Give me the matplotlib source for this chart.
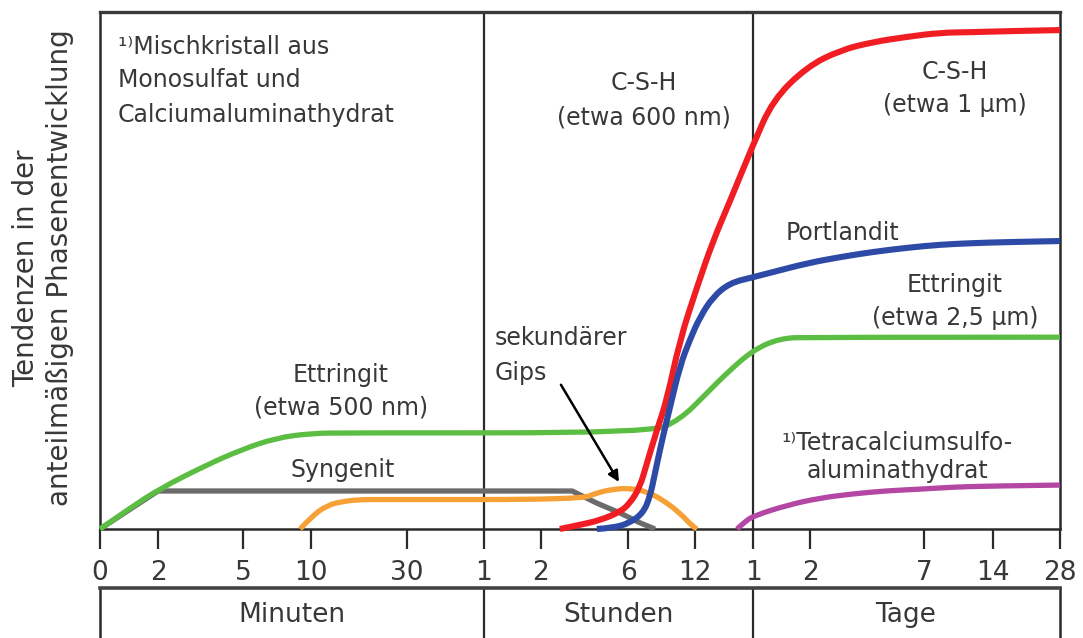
import numpy as np
import matplotlib
matplotlib.use("Agg")
import matplotlib.pyplot as plt
from matplotlib.ticker import NullLocator
from matplotlib.path import Path
from matplotlib.patches import PathPatch

plt.rcParams['font.family'] = ['DejaVu Sans']

# ---------------- data ----------------
# time axis (minutes) and its labels
tick_times = [0, 2, 5, 10, 30, 60, 120, 360, 720, 1440, 2880, 10080, 20160, 40320]
tick_labels = ['0', '2', '5', '10', '30', '1', '2', '6', '12', '1', '2', '7', '14', '28']
# piecewise axis layout (pixel-like units) used to build the custom time scale
scale_layout = [100, 158, 243, 311, 407, 484, 541, 628, 695, 753, 810, 924, 993, 1060]

period_names = ['Minuten', 'Stunden', 'Tage']
period_bounds = [60, 1440]  # minutes: 1 hour, 1 day

# Ettringit (green)
ettringit_t = [0, 1, 2.03, 3.72, 4.93, 7.4, 10, 17, 478, 639, 869, 1117, 1440, 2122, 2880, 40320]
ettringit_v = [0, 3.9, 7.7, 12.4, 15.3, 17.6, 18.5, 18.6, 18.6, 21.1, 26.3, 30.2, 34.6, 36.9, 37.1, 37.1]

# Syngenit (grey)
syngenit_t = [0, 2, 206, 274, 338, 424, 505]
syngenit_v = [0, 7.35, 7.35, 5.0, 3.1, 1.2, 0.0]

# sekundaerer Gips (orange)
gips_t = [9.2, 10, 13.3, 17, 20.6, 24.4, 228, 274, 319, 371, 462, 548, 639, 709, 745]
gips_v = [0, 2.3, 4.6, 5.4, 5.7, 5.7, 5.7, 7.0, 7.7, 7.9, 7.2, 5.6, 3.1, 0.4, 0]

# C-S-H (red)
csh_t = [172, 228, 283, 338, 371, 424, 462, 515, 569, 639, 745, 943, 1154, 1440, 1945,
         2804, 4775, 6859, 9006, 12417, 17238, 24372, 40320]
csh_v = [0, 0.8, 1.7, 3.3, 5.0, 8.1, 12.8, 19.1, 25.0, 36.6, 46.8, 55.7, 63.4, 74.3, 83.0,
         89.4, 92.6, 94.2, 95.2, 96.0, 96.1, 96.3, 96.5]

# Portlandit (blue)
portlandit_t = [274, 319, 371, 441, 478, 505, 543, 586, 639, 693, 782, 943, 1154, 1440, 1945,
                2804, 4775, 6859, 9006, 12417, 17238, 24372, 40320]
portlandit_v = [0, 0.2, 1.2, 3.1, 6.2, 10.8, 17.2, 23.6, 31.5, 36.7, 41.0, 44.9, 47.6, 48.7, 49.7,
                51.4, 52.6, 53.6, 54.4, 55.0, 55.3, 55.5, 55.7]

# Tetracalciumsulfoaluminathydrat (magenta)
tetra_t = [1241, 1341, 1440, 2299, 3512, 5596, 7743, 9827, 14316, 19284, 40320]
tetra_v = [0, 1.4, 2.5, 4.6, 6.0, 6.8, 7.4, 7.7, 8.1, 8.3, 8.5]

# ---------------- figure ----------------
W, H = 1083, 638
fig = plt.figure(figsize=(W / 100, H / 100), dpi=100)


def fx(x):
    return x / W


def fy(y):
    return 1 - y / H


TXT = '#383838'
LINE = '#2a2a2a'

tt = np.array(tick_times, float)
lay = np.array(scale_layout, float)


def fwd(t):
    return np.interp(t, tt, lay)


def inv(p):
    return np.interp(p, lay, tt)


def smooth_curve(ax, t, v, color, lw, zorder):
    """Draw a smooth (quadratic Bezier) curve through the read points,
    using the axis' own data transform (and thus its time scale)."""
    p = np.column_stack([fwd(np.asarray(t, float)), np.asarray(v, float)])
    n = len(p)
    verts = [p[0]]
    codes = [Path.MOVETO]
    if n == 2:
        verts.append(p[1])
        codes.append(Path.LINETO)
    else:
        for i in range(1, n - 2):
            verts += [p[i], (p[i] + p[i + 1]) / 2]
            codes += [Path.CURVE3, Path.CURVE3]
        verts += [p[n - 2], p[n - 1]]
        codes += [Path.CURVE3, Path.CURVE3]
    verts = np.array(verts)
    verts[:, 0] = inv(verts[:, 0])
    patch = PathPatch(Path(verts, codes), facecolor='none', edgecolor=color, lw=lw,
                      capstyle='butt', joinstyle='round', zorder=zorder,
                      transform=ax.transData, clip_on=False)
    ax.add_patch(patch)


ax = fig.add_axes([fx(100), fy(529), (1060 - 100) / W, (529 - 12) / H])
ax.set_xscale('function', functions=(fwd, inv))
ax.set_xlim(tick_times[0], tick_times[-1])
ax.set_ylim(0, 100)
ax.set_xticks(tick_times)
ax.set_xticklabels(tick_labels)
ax.xaxis.set_minor_locator(NullLocator())
ax.set_yticks([])
ax.tick_params(axis='x', direction='out', length=14.5, width=1.6, pad=8.0,
               labelsize=19, color=LINE, labelcolor=TXT)
for name, sp in ax.spines.items():
    sp.set_color(LINE)
    sp.set_linewidth(1.8)
ax.spines['top'].set_linewidth(2.4)
ax.spines['top'].set_color('#3a3a3a')

for b in period_bounds:
    ax.axvline(b, color=LINE, lw=1.6, zorder=1)

ax.plot(syngenit_t, syngenit_v, color='#6b6b6b', lw=3.8, zorder=3,
        solid_capstyle='butt', solid_joinstyle='round', clip_on=False)
smooth_curve(ax, gips_t, gips_v, '#f7a035', 3.8, 4)
smooth_curve(ax, ettringit_t, ettringit_v, '#5cbd43', 3.8, 5)
smooth_curve(ax, csh_t, csh_v, '#f01e23', 4.4, 6)
smooth_curve(ax, portlandit_t, portlandit_v, '#2c4aa6', 4.4, 7)
smooth_curve(ax, tetra_t, tetra_v, '#b347a3', 3.8, 5)

# arrow to secondary gypsum
ax.annotate('', xy=(335, 9.1), xytext=(175, 27.9),
            arrowprops=dict(arrowstyle='-|>', color='black', lw=1.8, mutation_scale=16,
                            shrinkA=0, shrinkB=0), zorder=8)

# ---------------- bottom period box ----------------
ax2 = fig.add_axes([fx(100), -0.1, (1060 - 100) / W, 0.1 + fy(588)])
ax2.set_xscale('function', functions=(fwd, inv))
ax2.set_xlim(tick_times[0], tick_times[-1])
ax2.set_ylim(0, 1)
ax2.set_xticks([])
ax2.set_yticks([])
ax2.xaxis.set_minor_locator(NullLocator())
for name, sp in ax2.spines.items():
    sp.set_color(LINE)
    sp.set_linewidth(1.8)
ax2.spines['top'].set_linewidth(2.6)
ax2.spines['top'].set_color('#444444')
for b in period_bounds:
    ax2.axvline(b, color=LINE, lw=1.6)

for name, xc in zip(period_names, [292, 618, 906]):
    fig.text(fx(xc), fy(615), name, ha='center', va='center', fontsize=19, color=TXT)

# ---------------- texts ----------------
fig.text(fx(43), fy(268), 'Tendenzen in der\nanteilmäßigen Phasenentwicklung',
         rotation=90, ha='center', va='center', fontsize=20, linespacing=1.3,
         multialignment='center', color=TXT)

FS = 17
left_texts = [('¹⁾Mischkristall aus', 118, 47), ('Monosulfat und', 118, 80),
              ('Calciumaluminathydrat', 118, 115),
              ('sekundärer', 495, 338), ('Gips', 495, 373)]
for s, x, y in left_texts:
    fig.text(fx(x), fy(y), s, ha='left', va='center', fontsize=FS, color=TXT)

center_texts = [('C-S-H', 644, 83), ('(etwa 600 nm)', 644, 118),
                ('C-S-H', 955, 72), ('(etwa 1 µm)', 955, 105),
                ('Portlandit', 843, 233),
                ('Ettringit', 955, 285), ('(etwa 2,5 µm)', 955, 318),
                ('Ettringit', 341, 375), ('(etwa 500 nm)', 341, 408),
                ('Syngenit', 343, 470),
                ('¹⁾Tetracalciumsulfo-', 897, 443), ('aluminathydrat', 897, 471)]
for s, x, y in center_texts:
    fig.text(fx(x), fy(y), s, ha='center', va='center', fontsize=FS, color=TXT)

fig.savefig('out.png', dpi=100)
